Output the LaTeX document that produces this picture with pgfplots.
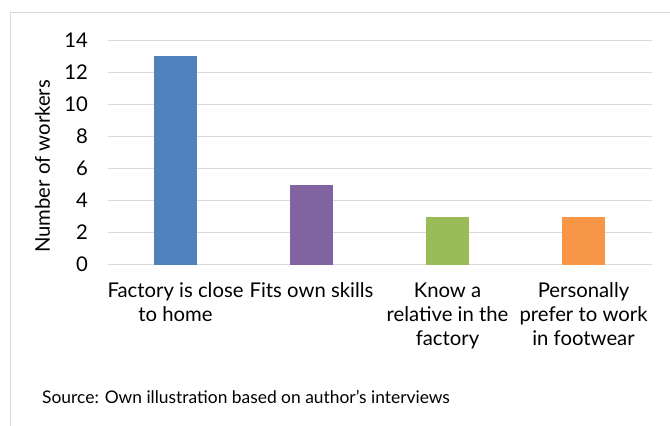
\documentclass[border=0pt]{standalone}
\usepackage{fontspec}
\setmainfont{Lato}
\usepackage{pgfplots}
\pgfplotsset{compat=1.18}
\definecolor{gridgray}{HTML}{D9D9D9}
\definecolor{framegray}{HTML}{D9D9D9}
\definecolor{cblue}{HTML}{4F81BD}
\definecolor{cpurple}{HTML}{8064A2}
\definecolor{cgreen}{HTML}{9BBB59}
\definecolor{corange}{HTML}{F79646}
\begin{document}
\begin{tikzpicture}[x=1bp,y=1bp]
\useasboundingbox (0,0) rectangle (670,425);
\draw[color=framegray, line width=1.2bp] (10.5,-20) rectangle (700,412.5);
\begin{axis}[
  at={(107.5bp,160.5bp)}, anchor=south west,
  scale only axis, width=544bp, height=224bp,
  xmin=-0.5, xmax=3.5, ymin=0, ymax=14,
  ytick={0,2,4,6,8,10,12,14},
  xtick={0,1,2,3},
  xticklabels={{Factory is close\\to home},{Fits own skills},{Know a\\relative in the\\factory},{Personally\\prefer to work\\in footwear}},
  axis line style={draw=none},
  major tick length=0pt,
  ymajorgrids,
  grid style={color=gridgray, line width=1.5bp},
  /pgf/number format/assume math mode=true,
  tick label style={font=\fontsize{20.3bp}{24bp}\selectfont, text=black},
  yticklabel style={inner sep=0pt, xshift=-19.5bp},
  xticklabel style={align=center, inner sep=0pt, yshift=-18bp},
  ylabel={Number of workers},
  ylabel style={font=\fontsize{20.3bp}{24bp}\selectfont, at={(axis description cs:-0.1195,0.4375)}, anchor=center},
]
\addplot[ybar, bar width=43bp, bar shift=0pt, fill=cblue, draw=none] coordinates {(0,13)};
\addplot[ybar, bar width=43bp, bar shift=0pt, fill=cpurple, draw=none] coordinates {(1,5)};
\addplot[ybar, bar width=43bp, bar shift=0pt, fill=cgreen, draw=none] coordinates {(2,3)};
\addplot[ybar, bar width=43bp, bar shift=0pt, fill=corange, draw=none] coordinates {(3,3)};
\end{axis}
\node[anchor=base west, inner sep=0pt, font=\fontsize{17.4bp}{20bp}\selectfont] at (42,22) {Source: Own illustration based on author’s interviews};
\end{tikzpicture}
\end{document}
